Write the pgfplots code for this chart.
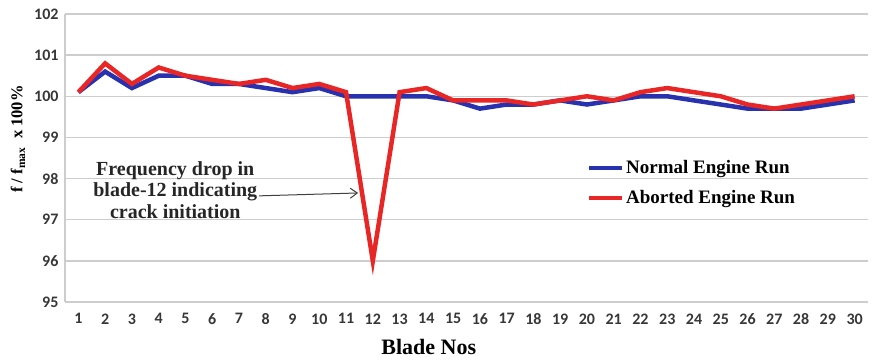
\documentclass[border=0pt]{standalone}
\usepackage{pgfplots}
\pgfplotsset{compat=1.18}
\usetikzlibrary{arrows.meta}
\usepackage{fontspec}
\setmainfont{Liberation Serif}
\newfontfamily\carlito{Carlito}
\definecolor{nblue}{RGB}{40,50,175}
\definecolor{ared}{RGB}{232,38,38}
\definecolor{gridc}{RGB}{205,205,205}
\definecolor{tickc}{RGB}{55,55,55}
\begin{document}
\begin{tikzpicture}
\begin{axis}[
  at={(0,0)}, anchor=south west,
  scale only axis, width=803pt, height=288pt,
  xmin=0.5, xmax=30.5, ymin=95, ymax=102,
  xtick={1,...,30}, ytick={95,...,102},
  major tick length=0pt,
  ymajorgrids, grid style={gridc, line width=1.3pt},
  axis x line*=bottom, axis y line*=left,
  axis line style={gridc, line width=1.3pt, -},
  /pgf/number format/assume math mode=true,
  tick label style={font=\carlito\bfseries\fontsize{16}{16}\selectfont, text=tickc},
  xticklabel style={yshift=-8pt},
  yticklabel style={xshift=-3pt},
  xlabel={Blade Nos},
  xlabel style={font=\bfseries\fontsize{22}{22}\selectfont, at={(axis description cs:0.453,-0.156)}, anchor=center},
  ylabel={f / f\textsubscript{max} \ x 100\%},
  ylabel style={font=\bfseries\fontsize{16.5}{16.5}\selectfont, at={(axis description cs:-0.0585,0.566)}, anchor=center},
  legend style={at={(axis description cs:0.65,0.499)}, anchor=north west, draw=none, fill=none,
    font=\bfseries\fontsize{19}{19}\selectfont, row sep=11pt, inner sep=0pt},
  legend cell align=left,
  legend image code/.code={\draw[#1, line width=4pt] (0pt,0pt) -- (33pt,0pt);},
  clip=false,
]
\addplot[nblue, line width=4.5pt] coordinates {
(1,100.1) (2,100.6) (3,100.2) (4,100.5) (5,100.5) (6,100.3) (7,100.3) (8,100.2) (9,100.1) (10,100.2)
(11,100.0) (12,100.0) (13,100.0) (14,100.0) (15,99.9) (16,99.7) (17,99.8) (18,99.8) (19,99.9) (20,99.8)
(21,99.9) (22,100.0) (23,100.0) (24,99.9) (25,99.8) (26,99.7) (27,99.7) (28,99.7) (29,99.8) (30,99.9)};
\addlegendentry{Normal Engine Run}
\addplot[ared, line width=4.5pt] coordinates {
(1,100.1) (2,100.8) (3,100.3) (4,100.7) (5,100.5) (6,100.4) (7,100.3) (8,100.4) (9,100.2) (10,100.3)
(11,100.1) (12,96.0) (13,100.1) (14,100.2) (15,99.9) (16,99.9) (17,99.9) (18,99.8) (19,99.9) (20,100.0)
(21,99.9) (22,100.1) (23,100.2) (24,100.1) (25,100.0) (26,99.8) (27,99.7) (28,99.8) (29,99.9) (30,100.0)};
\addlegendentry{Aborted Engine Run}
\node[font=\bfseries\fontsize{20}{21.5}\selectfont, align=center, text=black!85] at (axis cs:4.62,97.72)
  {Frequency drop in\\blade-12 indicating\\crack initiation};
\draw[black!75, line width=1pt, ->, >={Straight Barb[length=7pt,width=10pt]}] (axis cs:7.75,97.58) -- (axis cs:11.45,97.65);
\end{axis}
\pgfresetboundingbox
\path (-65pt,-57pt) rectangle (811pt,302pt);
\end{tikzpicture}
\end{document}
